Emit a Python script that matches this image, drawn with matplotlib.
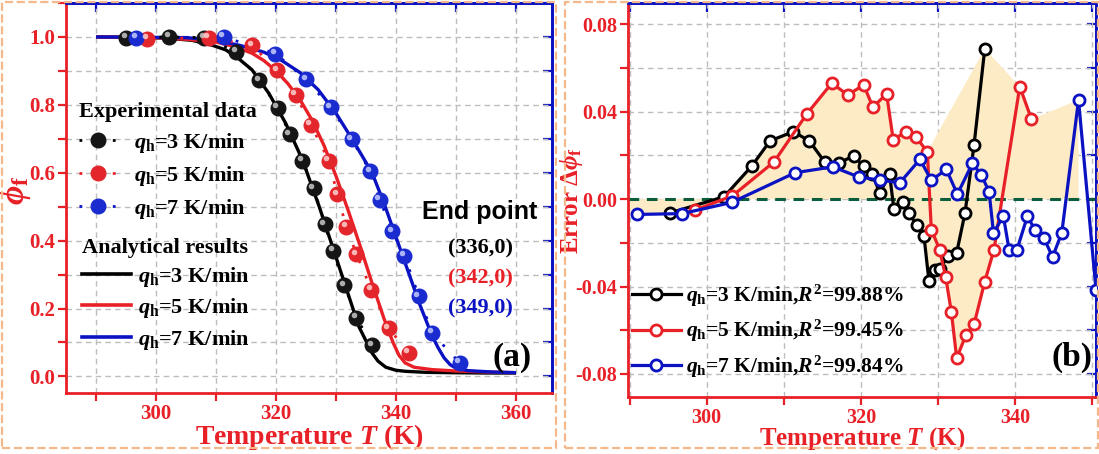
import matplotlib
matplotlib.use('Agg')
import matplotlib.pyplot as plt
import matplotlib.transforms as mtransforms
from matplotlib.lines import Line2D
from matplotlib.patches import Rectangle
from matplotlib.ticker import MultipleLocator, FormatStrFormatter

plt.rcParams['font.family'] = ['Liberation Serif', 'DejaVu Serif']
plt.rcParams['font.weight'] = 'bold'
plt.rcParams['axes.labelweight'] = 'bold'
plt.rcParams['mathtext.fontset'] = 'custom'
plt.rcParams['mathtext.rm'] = 'Liberation Serif:bold'
plt.rcParams['mathtext.it'] = 'Liberation Serif:bold:italic'
plt.rcParams['mathtext.bf'] = 'Liberation Serif:bold'
plt.rcParams['mathtext.fallback'] = 'stix'

RED = '#e82027'
BLUE = '#0b12c2'
BLACK = '#000000'

# ---- panel (a): experimental points ----
exp3_T = [295.0, 302.2, 308.0, 313.4, 317.2, 320.3, 322.3, 324.4, 326.3, 328.1, 329.5, 331.4, 333.4, 336.0]
exp3_phi = [0.997, 1.0, 0.998, 0.957, 0.873, 0.792, 0.714, 0.635, 0.555, 0.448, 0.37, 0.269, 0.173, 0.092]
exp5_T = [298.5, 308.8, 316.0, 320.2, 323.3, 325.8, 328.8, 330.2, 331.7, 333.4, 335.9, 338.8, 342.1]
exp5_phi = [0.995, 0.998, 0.975, 0.902, 0.829, 0.741, 0.636, 0.537, 0.441, 0.36, 0.255, 0.142, 0.069]
exp7_T = [296.7, 311.3, 319.9, 325.0, 329.1, 332.6, 335.7, 337.3, 339.4, 341.4, 343.8, 346.0, 350.6]
exp7_phi = [0.997, 1.0, 0.951, 0.875, 0.793, 0.699, 0.604, 0.52, 0.427, 0.355, 0.236, 0.128, 0.04]

# ---- panel (a): analytical curves ----
ana3_T = [290, 298, 302, 306, 309.3, 311.6, 313.5, 316, 318.8, 321.6, 324.4, 327.2, 329.4, 331.6, 333.8, 336.0, 337.0, 338.3, 340.0, 341.6, 345, 349.3, 355, 360]
ana3_phi = [1.0, 0.999, 0.996, 0.99, 0.976, 0.962, 0.94, 0.903, 0.834, 0.746, 0.638, 0.5, 0.383, 0.265, 0.147, 0.069, 0.045, 0.027, 0.018, 0.015, 0.012, 0.011, 0.01, 0.01]
ana5_T = [290, 300, 305, 310, 313, 316, 318, 320, 322, 324, 326, 328, 330, 332, 334, 336, 338, 339.5, 340.5, 341.5, 343, 346, 350, 355, 360]
ana5_phi = [1.0, 0.998, 0.993, 0.985, 0.972, 0.952, 0.93, 0.9, 0.862, 0.815, 0.755, 0.68, 0.59, 0.49, 0.385, 0.275, 0.17, 0.1, 0.062, 0.04, 0.027, 0.02, 0.016, 0.013, 0.011]
ana7_T = [290, 305, 310, 314, 318, 321, 324, 327, 330, 333, 336, 338, 340, 342, 344, 346, 347, 348, 349, 350, 352, 356, 360]
ana7_phi = [1.0, 0.998, 0.99, 0.975, 0.955, 0.93, 0.895, 0.845, 0.775, 0.69, 0.6, 0.51, 0.41, 0.31, 0.21, 0.12, 0.085, 0.055, 0.035, 0.024, 0.017, 0.013, 0.011]

rate_labels = [r'$q_{\mathrm{h}}$=3 K/min', r'$q_{\mathrm{h}}$=5 K/min', r'$q_{\mathrm{h}}$=7 K/min']
end_points = ['(336,0)', '(342,0)', '(349,0)']
r2_values = ['99.88%', '99.45%', '99.84%']

# ---- panel (b): errors ----
err3_T = [295.25, 302.26, 305.84, 308.23, 311.26, 313.34, 315.29, 317.19, 319.05, 320.37, 321.48, 322.47, 323.73, 324.29, 325.5, 326.24, 327.23, 328.19, 328.83, 329.57, 330.22, 331.35, 332.43, 333.51, 334.68, 336.07]
err3 = [-0.0063, 0.0011, 0.0151, 0.0267, 0.0309, 0.0266, 0.0171, 0.0167, 0.0197, 0.0151, 0.0113, 0.0029, 0.0113, -0.0047, -0.0012, -0.0063, -0.0119, -0.017, -0.0375, -0.0326, -0.0318, -0.026, -0.0245, -0.0063, 0.0248, 0.0688]
err5_T = [298.49, 303.34, 308.75, 312.99, 316.23, 318.31, 320.37, 321.56, 323.34, 324.2, 325.8, 327.19, 328.62, 329.14, 330.22, 331.0, 331.74, 332.43, 333.6, 334.68, 336.06, 337.27, 340.61, 342.13]
err5 = [-0.005, 0.0015, 0.0171, 0.039, 0.0531, 0.0477, 0.0523, 0.0421, 0.0482, 0.0271, 0.0309, 0.0283, 0.0217, -0.0139, -0.0231, -0.0356, -0.0517, -0.0728, -0.0624, -0.0573, -0.0379, -0.0231, 0.0515, 0.0366]
err7_T = [290.91, 296.84, 303.25, 311.48, 316.36, 319.7, 322.47, 325.06, 327.66, 329.14, 331.09, 332.52, 334.47, 335.64, 336.63, 337.2, 338.49, 339.22, 340.22, 341.6, 342.56, 343.77, 344.86, 346.06, 348.23, 350.5]
err7 = [-0.007, -0.0066, -0.0015, 0.0121, 0.0148, 0.0102, 0.0087, 0.0075, 0.0182, 0.0087, 0.0136, 0.0023, 0.0164, 0.011, 0.0034, -0.0154, -0.0078, -0.0231, -0.0234, -0.0078, -0.0139, -0.018, -0.0265, -0.0154, 0.0454, -0.0417]

# shaded band: upper and lower edges
shade_top_T = [290.0, 302.0, 302.26, 305.84, 308.23, 311.26, 312.99, 316.23, 318.31, 320.37, 321.56, 323.34, 324.2, 325.8, 327.19, 328.62, 336.07, 340.61, 342.13, 348.23, 348.23]
shade_top = [0.0, 0.0, 0.0011, 0.0151, 0.0267, 0.0309, 0.039, 0.0531, 0.0477, 0.0523, 0.0421, 0.0482, 0.0271, 0.0309, 0.0283, 0.0217, 0.0688, 0.0515, 0.0366, 0.0454, 0.0]
shade_bot_T = [290.0, 290.91, 295.25, 296.84, 298.49, 303.0, 324.0, 324.29, 325.5, 326.24, 327.23, 328.19, 328.83, 329.57, 330.22, 330.6, 331.0, 331.74, 332.43, 333.6, 334.68, 336.06, 337.27, 338.3, 348.23]
shade_bot = [-0.007, -0.007, -0.0063, -0.0066, -0.005, 0.0, 0.0, -0.0047, -0.0012, -0.0063, -0.0119, -0.017, -0.0375, -0.0326, -0.0318, -0.03, -0.0356, -0.0517, -0.0728, -0.0624, -0.0573, -0.0379, -0.0231, 0.0, 0.0]

fig = plt.figure(figsize=(10.99, 4.54), dpi=100)
ax1 = fig.add_axes([0.0601, 0.135, 0.4422, 0.8584])
ax2 = fig.add_axes([0.5714, 0.1249, 0.4259, 0.8685])

# dashed orange frames round each panel
for x0, w in [(0.002, 0.504), (0.514, 0.485)]:
    fig.add_artist(Rectangle((x0, 0.014), w, 0.982, transform=fig.transFigure, fill=False,
                             ec='#f5b88a', ls='--', lw=1.6))


def style_axes(ax, labelsize=15):
    for side in ['left', 'bottom']:
        ax.spines[side].set_color(RED)
        ax.spines[side].set_linewidth(2.0)
    for side in ['top', 'right']:
        ax.spines[side].set_color(BLUE)
        ax.spines[side].set_linewidth(2.0)
    ax.tick_params(which='both', direction='out', length=5.5, width=1.6, color=RED,
                   labelcolor=RED, labelsize=labelsize, pad=2.5)
    ax.tick_params(which='both', top=False, right=False)
    ax.grid(True, which='both', color='#bdbdbd', ls=(0, (4, 3)), lw=1.0)
    ax.set_axisbelow(True)


def blue_ticks(ax):
    # inward blue ticks on top and right spines
    sec_x = ax.secondary_xaxis('top')
    sec_x.set_xticks(ax.get_xticks(minor=False))
    sec_x.xaxis.set_minor_locator(ax.xaxis.get_minor_locator())
    sec_x.tick_params(which='both', direction='in', length=6.5, width=1.6, color=BLUE, labeltop=False)
    sec_x.spines['top'].set_color(BLUE)
    sec_x.spines['top'].set_linewidth(2.0)
    sec_y = ax.secondary_yaxis('right')
    sec_y.set_yticks(ax.get_yticks(minor=False))
    sec_y.yaxis.set_minor_locator(ax.yaxis.get_minor_locator())
    sec_y.tick_params(which='both', direction='in', length=6.5, width=1.6, color=BLUE, labelright=False)
    sec_y.spines['right'].set_color(BLUE)
    sec_y.spines['right'].set_linewidth(2.0)


# ================= panel (a) =================
ax = ax1
ax.set_xlim(285, 366)
ax.set_ylim(-0.048, 1.1)
ax.xaxis.set_minor_locator(MultipleLocator(10))
ax.yaxis.set_minor_locator(MultipleLocator(0.1))
ax.yaxis.set_major_formatter(FormatStrFormatter('%.1f'))
ax.set_xticks([300, 320, 340, 360])
ax.set_yticks([0.0, 0.2, 0.4, 0.6, 0.8, 1.0])
style_axes(ax)
blue_ticks(ax)

ball_face = [('#151515', '#c8c8c8'), ('#e3262b', '#ffd0d0'), ('#1a2bd0', '#c6ccff')]
hl = mtransforms.offset_copy(ax.transData, fig=fig, x=-1.8, y=1.8, units='points')

exp_sets = [(exp3_T, exp3_phi), (exp5_T, exp5_phi), (exp7_T, exp7_phi)]
ana_sets = [(ana3_T, ana3_phi), (ana5_T, ana5_phi), (ana7_T, ana7_phi)]
colors = [BLACK, RED, BLUE]

for (T, p), c in zip(ana_sets, colors):
    ax.plot(T, p, color=c, lw=2.4, zorder=3, solid_capstyle='butt')

for (T, p), c, (fc, hc) in zip(exp_sets, colors, ball_face):
    ax.plot(T, p, ls=(0, (1, 5)), lw=2.0, color=c, zorder=4)
    ax.plot(T, p, ls='none', marker='o', ms=10.5, mfc=fc, mec=fc, zorder=5)
    ax.plot(T, p, ls='none', marker='o', ms=4, mfc=hc, mec='none', alpha=0.85,
            transform=hl, zorder=6)

exp_handles = [Line2D([], [], color=c, ls=(0, (1, 5)), lw=2.0, marker='o', ms=10.5,
                      mfc=fc, mec=fc) for c, (fc, hc) in zip(colors, ball_face)]
leg1 = ax.legend(exp_handles, rate_labels, loc='upper left', bbox_to_anchor=(0.026, 0.745),
                 frameon=False, fontsize=16, handlelength=1.7, handletextpad=0.8,
                 labelspacing=0.4, borderpad=0, borderaxespad=0,
                 title='Experimental data', alignment='left',
                 title_fontproperties={'weight': 'bold', 'size': 16})
ax.add_artist(leg1)
ana_handles = [Line2D([], [], color=c, lw=2.6) for c in colors]
ax.legend(ana_handles, rate_labels, loc='upper left', bbox_to_anchor=(0.033, 0.398),
          frameon=False, fontsize=16, handlelength=2.2, handletextpad=0.3,
          labelspacing=0.33, borderpad=0, borderaxespad=0,
          title='Analytical results', alignment='left',
          title_fontproperties={'weight': 'bold', 'size': 16})

ax.text(0.852, 0.464, 'End point', transform=ax.transAxes, ha='center', va='center',
        fontsize=18, fontweight='bold', family=['Liberation Sans', 'DejaVu Sans'], color='black')
for label, c, y in zip(end_points, colors, [0.371, 0.294, 0.217]):
    ax.text(0.852, y, label, transform=ax.transAxes, ha='center', va='center',
            fontsize=16, color=c)
ax.text(0.918, 0.091, '(a)', transform=ax.transAxes, ha='center', va='center',
        fontsize=24, color='black')

ax.set_xlabel(r'Temperature $T$ (K)', fontsize=20, color=RED)
ax.xaxis.set_label_coords(0.5, -0.076)
ax.set_ylabel(r'$\phi_{\mathrm{f}}$', fontsize=24, color=RED)
ax.yaxis.set_label_coords(-0.068, 0.52)

# ================= panel (b) =================
ax = ax2
ax.set_xlim(289.8, 350.5)
ax.set_ylim(-0.0907, 0.0898)
ax.xaxis.set_minor_locator(MultipleLocator(10))
ax.set_xticks([300, 320, 340])
ax.set_yticks([-0.08, -0.04, 0.0, 0.04, 0.08])
ax.yaxis.set_minor_locator(MultipleLocator(0.02))
ax.yaxis.set_major_formatter(FormatStrFormatter('%.2f'))
style_axes(ax, labelsize=14.5)
blue_ticks(ax)

ax.fill(shade_top_T + shade_bot_T[::-1], shade_top + shade_bot[::-1],
        color='#fdebc6', lw=0, zorder=1)
ax.axhline(0, color='#0b5d3b', ls=(0, (3.5, 2.5)), lw=2.2, zorder=2)

err_sets = [(err3_T, err3), (err5_T, err5), (err7_T, err7)]
err_handles = []
for (T, e), c in zip(err_sets, colors):
    h, = ax.plot(T, e, color=c, lw=2.3, marker='o', ms=8, mfc='white', mec=c, mew=2.0,
                 zorder=3)
    err_handles.append(h)

err_labels = [lab + r',$R^2$=' + r2 for lab, r2 in zip(rate_labels, r2_values)]
ax.legend(err_handles, err_labels, loc='upper left', bbox_to_anchor=(0.008, 0.29),
          frameon=False, fontsize=15.5, handlelength=2.3, handletextpad=0.2,
          labelspacing=0.42, borderpad=0, borderaxespad=0)
ax.text(0.949, 0.102, '(b)', transform=ax.transAxes, ha='center', va='center',
        fontsize=24, color='black')

ax.set_xlabel(r'Temperature $T$ (K)', fontsize=18, color=RED)
ax.xaxis.set_label_coords(0.5, -0.071)
ax.set_ylabel(r'Error $\mathit{\Delta}\phi_{\mathrm{f}}$', fontsize=18, color=RED)
ax.yaxis.set_label_coords(-0.091, 0.5)

fig.savefig('out.png', dpi=100)
